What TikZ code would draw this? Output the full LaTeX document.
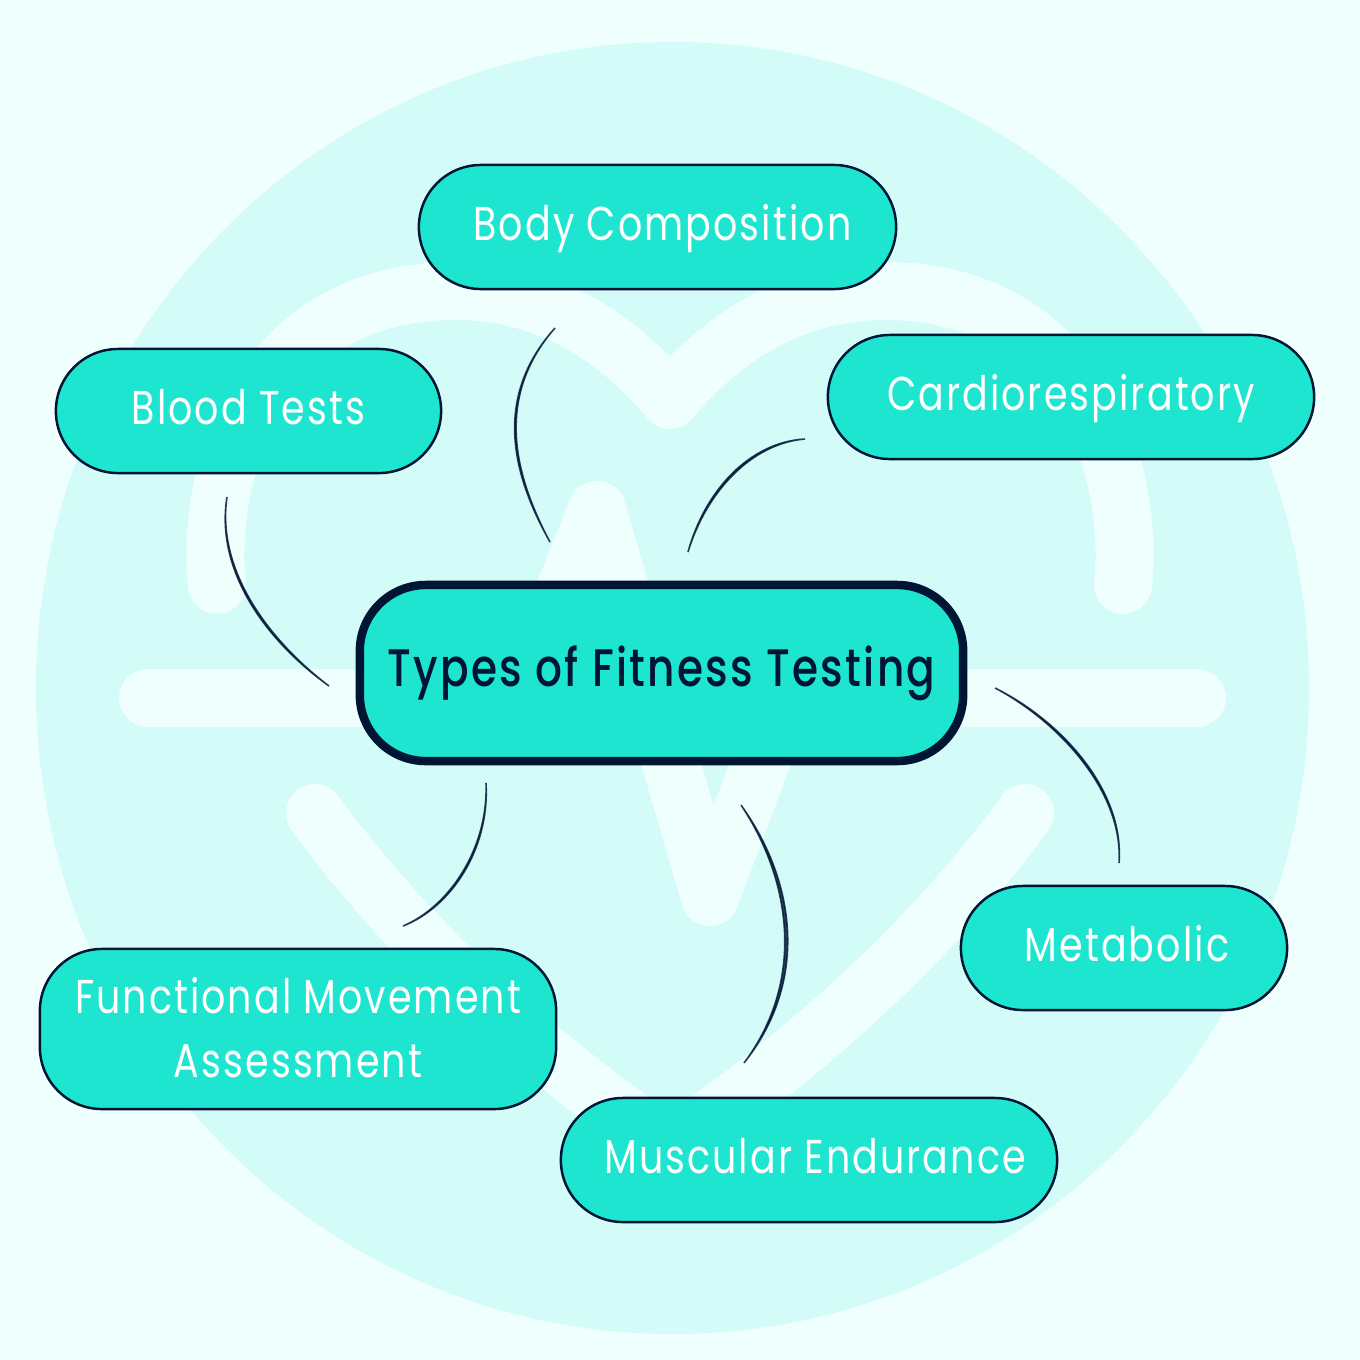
\documentclass[tikz,border=0pt]{standalone}
\usepackage{fontspec}
\setmainfont{Poppins Medium}[FakeStretch=0.8,LetterSpace=4.4]
\newfontfamily\pillfont{Poppins}[FakeStretch=0.8,LetterSpace=4.4]
\usetikzlibrary{calc,positioning}
\definecolor{pagebg}{HTML}{EFFFFE}
\definecolor{discbg}{HTML}{D3FBF7}
\definecolor{pillfill}{HTML}{1DE5D0}
\definecolor{navy}{HTML}{001433}
\tikzset{
    pill/.style={draw=navy,fill=pillfill,line width=0.7pt,inner sep=0,align=center,rounded corners=0.62cm,
        font=\pillfont\fontsize{13.5}{18.2}\selectfont,text=white,text height=0.26cm,text depth=0cm},
    mainpill/.style={pill,line width=2.4pt,rounded corners=0.66cm,text=navy,font=\normalfont\fontsize{15}{18}\selectfont},
    heartline/.style={draw=pagebg,line width=0.58cm,line cap=round,line join=round},
    link/.style={fill=navy,fill opacity=0.8,draw=navy,draw opacity=0.8,line width=0.45pt},
}
\begin{document}
\begin{tikzpicture}[x=0.01cm,y=-0.01cm]
    \fill[pagebg] (0,0) rectangle (1360,1360);
    \fill[discbg] (672.5,688) ellipse (636.5 and 646);
    % heart and pulse
    \draw[heartline] (217,585) .. controls (205,470) and (260,291) .. (455,291)
        .. controls (550,291) and (620,340) .. (670,400)
        .. controls (720,340) and (790,291) .. (885,291)
        .. controls (1080,291) and (1135,470) .. (1123,585);
    \draw[heartline] (315,813) .. controls (400,930) and (520,1045) .. (670,1147)
        .. controls (820,1045) and (940,930) .. (1025,813);
    \draw[heartline] (148,698) -- (522,698) -- (597,510) -- (710,897) -- (785,698) -- (1197,698);
    % boxes
    \node[mainpill,minimum width=6.03cm,minimum height=1.76cm] (fitness) at (661.5,673) {Types of Fitness Testing};
    \node[pill,minimum width=4.77cm,minimum height=1.24cm] (body) at (657.5,227) {\hspace*{0.1cm}Body Composition};
    \node[pill,minimum width=4.86cm,minimum height=1.24cm] (cardio) at (1071,397) {Cardiorespiratory};
    \node[pill,minimum width=3.85cm,minimum height=1.24cm] (blood) at (248.5,411) {Blood Tests};
    \node[pill,minimum width=3.26cm,minimum height=1.24cm] (metabolic) at (1124,948) {\hspace*{0.06cm}Metabolic};
    \node[pill,minimum width=5.16cm,minimum height=1.60cm,text height=0.96cm] (functional) at (298,1029) {Functional Movement\\Assessment};
    \node[pill,minimum width=4.96cm,minimum height=1.24cm] (muscular) at (809,1160) {\hspace*{0.12cm}Muscular Endurance};
    % free ends of the strokes
    \coordinate (bodyEnd) at (555,328);
    \coordinate (bodyTip) at (550,542);
    \coordinate (cardioEnd) at (805,439);
    \coordinate (cardioTip) at (688,552);
    \coordinate (bloodEnd) at (227,497);
    \coordinate (bloodTip) at (329,686);
    \coordinate (metaEnd) at (1119,863);
    \coordinate (metaTip) at (995,688);
    \coordinate (funcEnd) at (403,926);
    \coordinate (funcTip) at (486,783);
    \coordinate (muscEnd) at (744,1063);
    \coordinate (muscTip) at (741,805);
    \foreach \a/\b/\ca/\cb/\dx/\dy in {
        bodyEnd/bodyTip/{490,400}/{515,480}/2/0,
        cardioEnd/cardioTip/{750,442}/{705,490}/1.5/1.5,
        bloodEnd/bloodTip/{215,570}/{265,640}/1.5/-1.5,
        metaEnd/metaTip/{1125,790}/{1060,720}/-1.5/1.5,
        funcEnd/funcTip/{450,908}/{490,850}/-1.5/-1,
        muscEnd/muscTip/{810,980}/{795,880}/-4/0} {
        \fill[link] (\a) .. controls (\ca) and (\cb) .. (\b)
            .. controls ($(\cb)+(\dx,\dy)$) and ($(\ca)+(\dx,\dy)$) .. (\a);
    }
\end{tikzpicture}
\end{document}
